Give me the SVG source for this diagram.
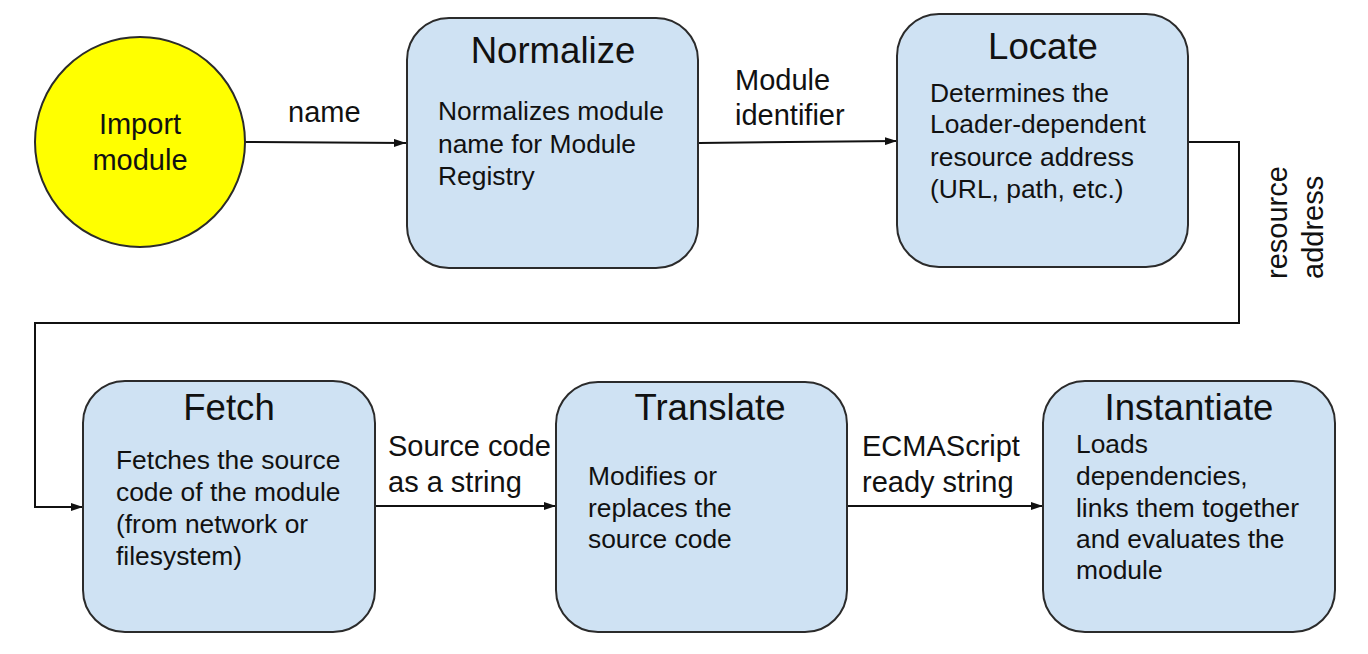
<svg xmlns="http://www.w3.org/2000/svg" width="1368" height="654" viewBox="0 0 1368 654">
<defs>
<style>
text{font-family:"Liberation Sans",Arial,sans-serif;fill:#111}
.box{fill:#cfe2f3;stroke:#2b2b2b;stroke-width:2}
.t{font-size:36.6px;text-anchor:middle}
.b{font-size:26.4px}
.l{font-size:29px}
.c{fill:none;stroke:#111;stroke-width:2;marker-end:url(#ah)}
</style>
<marker id="ah" viewBox="0 0 12 8" refX="12" refY="4" markerWidth="12" markerHeight="8" markerUnits="userSpaceOnUse" orient="auto">
<path d="M0,0 L12,4 L0,8 Z" fill="#111"/>
</marker>
</defs>
<rect width="1368" height="654" fill="#fff"/>
<g id="connectors">
<path class="c" d="M245,142 L406,143"/>
<path class="c" d="M699,143 L897,141"/>
<path class="c" d="M1188,142 L1239,142 L1239,323 L35,323 L35,507 L83,507"/>
<path class="c" d="M375,506 L556,506"/>
<path class="c" d="M847,506 L1043,506"/>
<text class="l" x="288" y="122">name</text>
<text class="l" x="735" y="90">Module</text>
<text class="l" x="735" y="125">identifier</text>
<g transform="translate(0,279) rotate(-90)">
<text class="l" x="0" y="1287">resource</text>
<text class="l" x="0" y="1323">address</text>
</g>
<text class="l" x="388" y="456">Source code</text>
<text class="l" x="388" y="492">as a string</text>
<text class="l" x="862" y="456">ECMAScript</text>
<text class="l" x="862" y="492">ready string</text>
</g>
<g id="import">
<circle cx="140" cy="142" r="105" fill="#ffff00" stroke="#2b2b2b" stroke-width="2"/>
<text class="l" x="140" y="134" text-anchor="middle">Import</text>
<text class="l" x="140" y="170" text-anchor="middle">module</text>
</g>
<g id="normalize">
<rect class="box" x="407" y="18" width="291" height="250" rx="42"/>
<text class="t" x="553" y="63">Normalize</text>
<text class="b" x="438" y="120">Normalizes module</text>
<text class="b" x="438" y="153">name for Module</text>
<text class="b" x="438" y="185">Registry</text>
</g>
<g id="locate">
<rect class="box" x="897" y="14" width="291" height="253" rx="42"/>
<text class="t" x="1043" y="59">Locate</text>
<text class="b" x="930" y="102">Determines the</text>
<text class="b" x="930" y="133">Loader-dependent</text>
<text class="b" x="930" y="166">resource address</text>
<text class="b" x="930" y="198">(URL, path, etc.)</text>
</g>
<g id="fetch">
<rect class="box" x="83" y="381" width="292" height="251" rx="42"/>
<text class="t" x="229" y="420">Fetch</text>
<text class="b" x="116" y="469">Fetches the source</text>
<text class="b" x="116" y="501">code of the module</text>
<text class="b" x="116" y="533">(from network or</text>
<text class="b" x="116" y="565">filesystem)</text>
</g>
<g id="translate">
<rect class="box" x="556" y="382" width="291" height="250" rx="42"/>
<text class="t" x="710" y="420">Translate</text>
<text class="b" x="588" y="485">Modifies or</text>
<text class="b" x="588" y="517">replaces the</text>
<text class="b" x="588" y="548">source code</text>
</g>
<g id="instantiate">
<rect class="box" x="1043" y="381" width="292" height="251" rx="42"/>
<text class="t" x="1189" y="420">Instantiate</text>
<text class="b" x="1076" y="453">Loads</text>
<text class="b" x="1076" y="485">dependencies,</text>
<text class="b" x="1076" y="517">links them together</text>
<text class="b" x="1076" y="548">and evaluates the</text>
<text class="b" x="1076" y="579">module</text>
</g>
</svg>
